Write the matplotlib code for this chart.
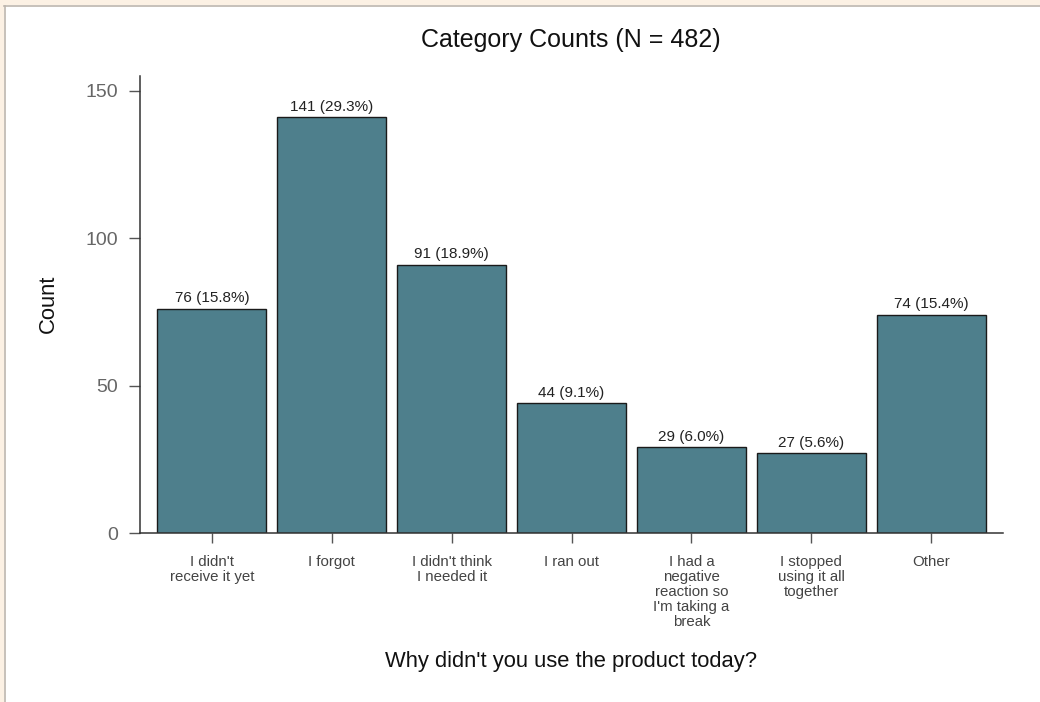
import matplotlib.pyplot as plt
from matplotlib.patches import Rectangle
from matplotlib.lines import Line2D

categories = ["I didn't\nreceive it yet", "I forgot", "I didn't think\nI needed it", "I ran out",
              "I had a\nnegative\nreaction so\nI'm taking a\nbreak", "I stopped\nusing it all\ntogether",
              "Other"]
counts = [76, 141, 91, 44, 29, 27, 74]
percents = [15.8, 29.3, 18.9, 9.1, 6.0, 5.6, 15.4]
total = 482
yticks = [0, 50, 100, 150]

plt.rcParams['font.family'] = ['Liberation Sans', 'DejaVu Sans']

fig = plt.figure(figsize=(10.4, 7.02), dpi=100)
ax = fig.add_axes([140 / 1040, 1 - 533 / 702, 863 / 1040, 457 / 702])

# window frame
fig.patches.append(Rectangle((0, 1 - 5 / 702), 1, 5 / 702, transform=fig.transFigure,
                             facecolor='#fcf1e4', edgecolor='none'))
fig.patches.append(Rectangle((0, 0), 4 / 1040, 1, transform=fig.transFigure,
                             facecolor='#fcf1e4', edgecolor='none'))
fig.lines.append(Line2D([4 / 1040, 1], [1 - 5.5 / 702, 1 - 5.5 / 702], transform=fig.transFigure,
                        color='#bdb6ae', lw=1.2))
fig.lines.append(Line2D([4.5 / 1040, 4.5 / 1040], [0, 1 - 5.5 / 702], transform=fig.transFigure,
                        color='#bdb6ae', lw=1.2))

x = range(len(categories))
bars = ax.bar(x, counts, width=0.91, color='#4e7f8c', edgecolor='#1a1a1a', linewidth=1.0)

for i, b in enumerate(bars):
    ax.text(b.get_x() + b.get_width() / 2, counts[i] + 1.2, f"{counts[i]} ({percents[i]:.1f}%)",
            ha='center', va='bottom', fontsize=11, color='#222222')

ax.set_xlim(-0.6, 6.6)
ax.set_ylim(0, 155)
ax.set_xticks(list(x))
ax.set_xticklabels(categories, fontsize=10.8, color='#444444', linespacing=1.08)
ax.set_yticks(yticks)
ax.set_yticklabels([str(v) for v in yticks], fontsize=14, color='#666666')
ax.tick_params(axis='x', length=7, width=1, color='#555555', pad=9)
ax.tick_params(axis='y', length=8, width=1, color='#555555', pad=8)

for s in ['top', 'right']:
    ax.spines[s].set_visible(False)
for s in ['left', 'bottom']:
    ax.spines[s].set_color('#333333')
    ax.spines[s].set_linewidth(1.1)

fig.text(571 / 1040, 1 - 40 / 702, f"Category Counts (N = {total})", ha='center', va='center',
         fontsize=18, color='#111111')
fig.text(571 / 1040, 1 - 662 / 702, "Why didn't you use the product today?", ha='center', va='center',
         fontsize=15.8, color='#111111')
fig.text(48 / 1040, 1 - 304 / 702, "Count", ha='center', va='center', rotation=90,
         fontsize=15.8, color='#111111')

fig.savefig('out.png', dpi=100)
